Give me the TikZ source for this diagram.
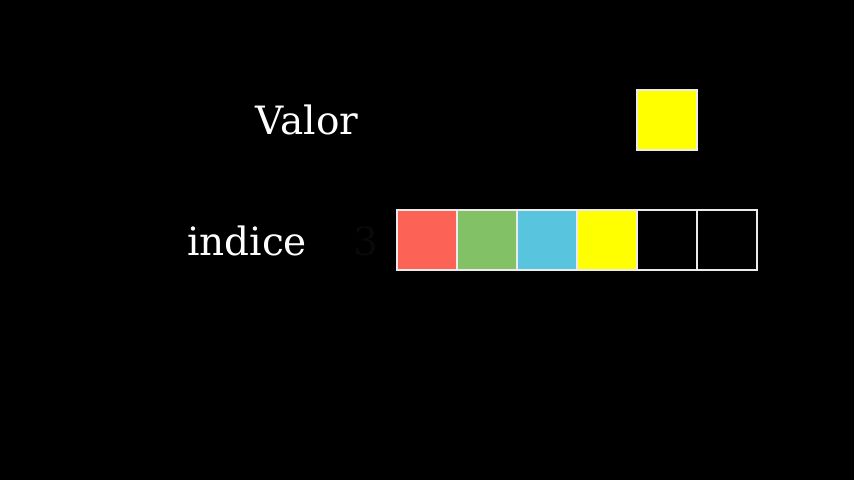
\documentclass[tikz,border=0pt]{standalone}
\usepackage{fontspec}
\setmainfont{DejaVu Serif}
\usetikzlibrary{positioning}
\definecolor{cellred}{HTML}{FC6255}
\definecolor{cellgreen}{HTML}{83C167}
\definecolor{cellblue}{HTML}{58C4DD}
\definecolor{cellyellow}{HTML}{FFFF00}
\definecolor{faint}{HTML}{090909}

\begin{document}
\begin{tikzpicture}[
  x=1pt,y=1pt,
  node distance=0pt,
  cell/.style={draw=white!92!black,line width=2.4pt,minimum size=60pt,inner sep=0pt,outer sep=0pt},
  lbl/.style={text=white,font=\fontsize{39}{46}\selectfont,inner sep=0pt}
]
  \fill[black] (0,0) rectangle (854,480);
  \useasboundingbox (0,0) rectangle (854,480);

  % array of cells
  \node[cell,fill=cellred]    (c0) at (427,240) {};
  \node[cell,fill=cellgreen,right=of c0]  (c1) {};
  \node[cell,fill=cellblue,right=of c1]   (c2) {};
  \node[cell,fill=cellyellow,right=of c2] (c3) {};
  \node[cell,fill=black,right=of c3]      (c4) {};
  \node[cell,fill=black,right=of c4]      (c5) {};

  % value being read
  \node[cell,fill=cellyellow] (val) at (667,360) {};

  \node[lbl,anchor=base] (valor)  at (307,345) {Valor};
  \node[lbl,anchor=base] (indice) at (247,225) {indice};
  \node[lbl,text=faint,anchor=base] (idx) at (366,225) {3};
\end{tikzpicture}
\end{document}
